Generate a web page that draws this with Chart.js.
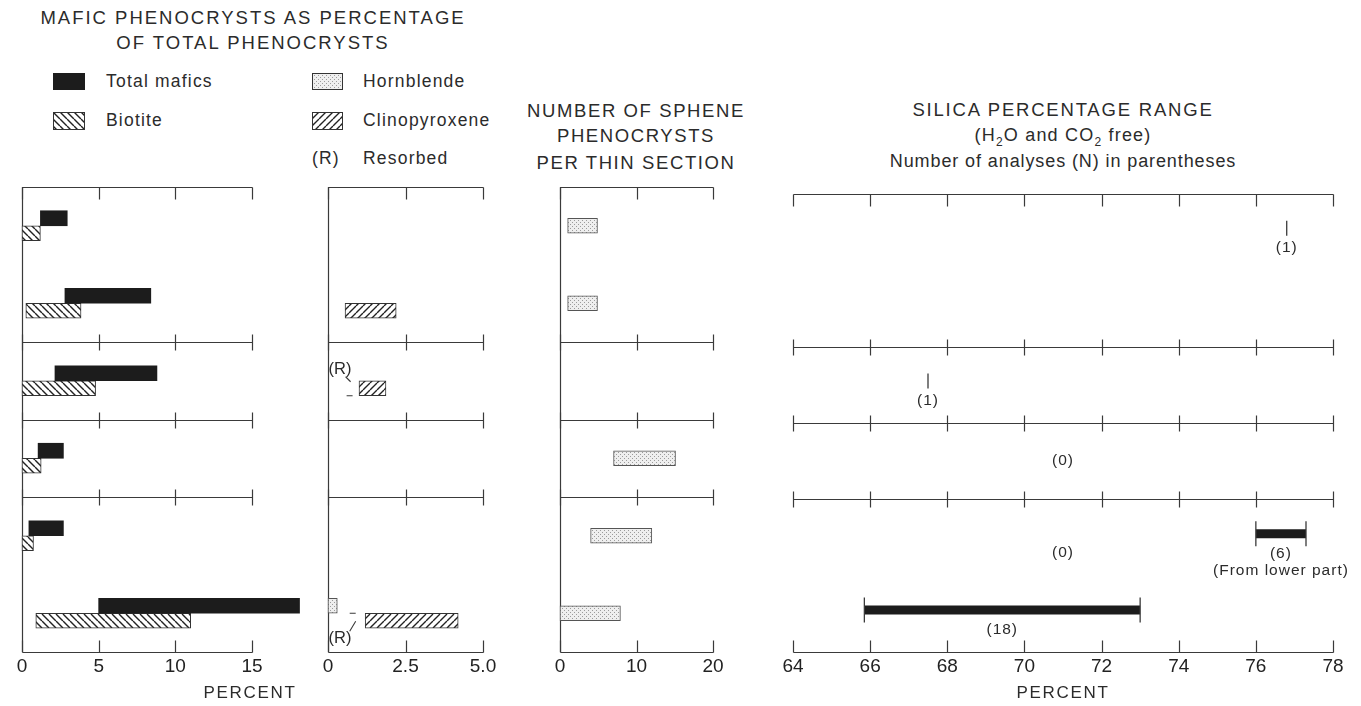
<!DOCTYPE html>
<html>
<head>
<meta charset="utf-8">
<script src="https://cdn.jsdelivr.net/npm/chart.js@4.4.1/dist/chart.umd.min.js"></script>
<style>
  body { margin: 0; background: #fff; }
  #wrap { position: relative; width: 1361px; height: 706px; overflow: hidden;
          font-family: 'Liberation Sans', Arial, sans-serif; color: #2b2b2b; }
  .t { position: absolute; white-space: nowrap; line-height: 20px; }
  .c { transform: translateX(-50%); }
  .chart { position: absolute; top: 180px; }
  .sw { position: absolute; }
  .lg { font-size: 17.5px; letter-spacing: 1.2px; }
</style>
</head>
<body>
<div id="wrap">
  <!-- titles -->
  <div class="t c" style="left:253px;top:8px;font-size:18.5px;letter-spacing:2px">MAFIC PHENOCRYSTS AS PERCENTAGE</div>
  <div class="t c" style="left:253px;top:33px;font-size:18.5px;letter-spacing:2px">OF TOTAL PHENOCRYSTS</div>

  <!-- legend -->
  <canvas class="sw" id="sw-total" width="32" height="17" style="left:53px;top:73px"></canvas>
  <div class="t lg" style="left:106px;top:71px">Total mafics</div>
  <canvas class="sw" id="sw-biotite" width="32" height="18" style="left:53px;top:112px"></canvas>
  <div class="t lg" style="left:106px;top:110px">Biotite</div>
  <canvas class="sw" id="sw-hornblende" width="31" height="17" style="left:312px;top:73px"></canvas>
  <div class="t lg" style="left:363px;top:71px">Hornblende</div>
  <canvas class="sw" id="sw-cpx" width="31" height="18" style="left:312px;top:112px"></canvas>
  <div class="t lg" style="left:363px;top:110px">Clinopyroxene</div>
  <div class="t lg" style="left:312px;top:148px">(R)</div>
  <div class="t lg" style="left:363px;top:148px">Resorbed</div>

  <div class="t c" style="left:636px;top:101px;font-size:18.5px;letter-spacing:1.6px">NUMBER OF SPHENE</div>
  <div class="t c" style="left:636px;top:126px;font-size:18.5px;letter-spacing:1.6px">PHENOCRYSTS</div>
  <div class="t c" style="left:636px;top:153px;font-size:18.5px;letter-spacing:1.6px">PER THIN SECTION</div>

  <div class="t c" style="left:1063px;top:100px;font-size:18.5px;letter-spacing:1.8px">SILICA PERCENTAGE RANGE</div>
  <div class="t c" style="left:1063px;top:125px;font-size:18px;letter-spacing:1.2px">(H<sub style="font-size:12px">2</sub>O and CO<sub style="font-size:12px">2</sub> free)</div>
  <div class="t c" style="left:1063px;top:151px;font-size:18px;letter-spacing:0.9px">Number of analyses (N) in parentheses</div>

  <canvas class="chart" id="mafic" width="320" height="526" style="left:0px"></canvas>
  <canvas class="chart" id="pyx" width="200" height="526" style="left:300px"></canvas>
  <canvas class="chart" id="sphene" width="210" height="526" style="left:530px"></canvas>
  <canvas class="chart" id="silica" width="600" height="526" style="left:760px"></canvas>

  <div class="t c" style="left:250px;top:683px;font-size:17px;letter-spacing:1.7px">PERCENT</div>
  <div class="t c" style="left:1063px;top:683px;font-size:17px;letter-spacing:1.7px">PERCENT</div>
</div>

<script>
// six sample groups, top to bottom
const ROWS = ['1', '2', '3', '4', '5', '6'];
const SEPARATORS = [2, 3, 4];   // rule drawn after these rows

// mafic phenocrysts, percent of total phenocrysts [low, high]
const totalMafics = [[1.2, 2.95], [2.8, 8.4], [2.15, 8.8], [1.05, 2.7], [0.45, 2.7], [5.0, 18.1]];
const biotite = [[0, 1.2], [0.25, 3.85], [0, 4.8], [0, 1.25], [0, 0.75], [0.9, 11.0]];
const hornblende = [null, null, null, null, null, [0, 0.3]];
const clinopyroxene = [null, [0.55, 2.2], [1.0, 1.87], null, null, [1.2, 4.2]];
const cpxResorbedFrom = [null, null, 0.6, null, null, 0.7];
const resorbedLabelSide = [null, null, 'above', null, null, 'below'];

// sphene phenocrysts per thin section [low, high]
const sphene = [[1.0, 4.9], [1.0, 4.9], null, [7.0, 15.1], [4.0, 12.0], [0, 7.9]];

// silica percentage range, N analyses
const silicaLow = [76.8, null, 67.5, null, 76.0, 65.85];
const silicaHigh = [76.8, null, 67.5, null, 77.3, 73.0];
const silicaN = [1, null, 1, null, 6, 18];
const silicaZero = [false, false, false, true, true, false];
const silicaNote = ['', '', '', '', '(From lower part)', ''];

// axis ticks
const maficTicks = [0, 5, 10, 15];
const maficLabels = ['0', '5', '10', '15'];
const pyxTicks = [0, 2.5, 5];
const pyxLabels = ['0', '2.5', '5.0'];
const spheneTicks = [0, 10, 20];
const spheneLabels = ['0', '10', '20'];
const silicaTicks = [64, 66, 68, 70, 72, 74, 76, 78];
const silicaLabels = ['64', '66', '68', '70', '72', '74', '76', '78'];

const INK = '#1c1c1c';
const LINE = '#3a3a3a';
const FONT = "'Liberation Sans', Arial, sans-serif";

Chart.defaults.font.family = FONT;
Chart.defaults.color = '#222';

function hatch(dir) {
  const s = 7;
  const c = document.createElement('canvas');
  c.width = c.height = s;
  const g = c.getContext('2d');
  g.fillStyle = '#fff';
  g.fillRect(0, 0, s, s);
  g.strokeStyle = '#222';
  g.lineWidth = 1.4;
  g.beginPath();
  for (const k of [-s, 0, s]) {
    if (dir === 'back') { g.moveTo(k, 0); g.lineTo(k + s, s); }
    else { g.moveTo(k, s); g.lineTo(k + s, 0); }
  }
  g.stroke();
  return g.createPattern(c, 'repeat');
}

function stipple() {
  const c = document.createElement('canvas');
  c.width = c.height = 4;
  const g = c.getContext('2d');
  g.fillStyle = '#efefef';
  g.fillRect(0, 0, 4, 4);
  g.fillStyle = '#9c9c9c';
  g.fillRect(0, 0, 1, 1);
  g.fillRect(2, 2, 1, 1);
  return g.createPattern(c, 'repeat');
}

const BIOTITE_FILL = hatch('back');
const CPX_FILL = hatch('fwd');
const HB_FILL = stipple();

// legend swatches
function swatch(id, fill, border) {
  const c = document.getElementById(id);
  const g = c.getContext('2d');
  g.fillStyle = fill;
  g.fillRect(0, 0, c.width, c.height);
  if (border) { g.strokeStyle = '#333'; g.lineWidth = 1; g.strokeRect(0.5, 0.5, c.width - 1, c.height - 1); }
}
swatch('sw-total', INK, false);
swatch('sw-biotite', BIOTITE_FILL, true);
swatch('sw-hornblende', HB_FILL, true);
swatch('sw-cpx', CPX_FILL, true);

// frame: top rule, row separators and bottom rule, each with ticks
const framePlugin = {
  id: 'frame',
  beforeDatasetsDraw(chart, args, opts) {
    const { ctx, chartArea: a, scales: { x } } = chart;
    const x0 = Math.round(x.getPixelForValue(x.min)) + 0.5;
    const x1 = Math.round(x.getPixelForValue(x.max)) + 0.5;
    const ticks = x.ticks.map(t => Math.round(x.getPixelForValue(t.value)) + 0.5);
    const rowH = (a.bottom - a.top) / ROWS.length;
    ctx.save();
    ctx.strokeStyle = LINE;
    ctx.lineWidth = 1.2;
    const hline = (y, up, down) => {
      y = Math.round(y) + 0.5;
      ctx.beginPath();
      ctx.moveTo(x0, y);
      ctx.lineTo(x1, y);
      ticks.forEach(px => { ctx.moveTo(px, y - up); ctx.lineTo(px, y + down); });
      ctx.stroke();
    };
    hline(a.top, 0, 12);
    SEPARATORS.forEach(r => hline(a.top + r * rowH, 8, 8));
    hline(a.bottom, 12, 0);
    if (opts.leftAxis) {
      ctx.beginPath();
      ctx.moveTo(x0, a.top);
      ctx.lineTo(x0, a.bottom);
      ctx.stroke();
    }
    ctx.restore();
  }
};

function xScale(ticks, labels) {
  return {
    type: 'linear',
    min: ticks[0],
    max: ticks[ticks.length - 1],
    afterBuildTicks: s => { s.ticks = ticks.map(v => ({ value: v })); },
    afterFit: s => { s.height = 54; },
    grid: { display: false, drawTicks: false },
    border: { display: false },
    ticks: { callback: (v, i) => labels[i], padding: 3, maxRotation: 0, autoSkip: false, font: { size: 19 } },
  };
}

function barChart(id, datasets, ticks, labels, pad, extraPlugins) {
  return new Chart(document.getElementById(id), {
    type: 'bar',
    data: { labels: ROWS, datasets },
    options: {
      responsive: false,
      animation: false,
      indexAxis: 'y',
      layout: { padding: { top: 7, bottom: 0, left: pad[0], right: pad[1] } },
      plugins: { legend: { display: false }, tooltip: { enabled: false }, frame: { leftAxis: true } },
      scales: {
        x: xScale(ticks, labels),
        y: { type: 'category', display: false, offset: true },
      },
    },
    plugins: [framePlugin].concat(extraPlugins || []),
  });
}

const barBase = { barThickness: 15, borderSkipped: false, clip: false, grouped: true };

barChart('mafic', [
  { ...barBase, label: 'Total mafics', data: totalMafics, backgroundColor: INK, borderWidth: 0 },
  { ...barBase, label: 'Biotite', data: biotite, backgroundColor: BIOTITE_FILL, borderColor: '#333', borderWidth: 1 },
], maficTicks, maficLabels, [22, 68]);

// resorbed clinopyroxene: dashed extension, hook and (R)
const resorbedPlugin = {
  id: 'resorbed',
  afterDatasetsDraw(chart) {
    const { ctx, scales: { x } } = chart;
    const bars = chart.getDatasetMeta(1).data;
    ctx.save();
    ctx.strokeStyle = LINE;
    ctx.fillStyle = '#2b2b2b';
    ctx.lineWidth = 1.1;
    ctx.font = '16.5px ' + FONT;
    ctx.textAlign = 'center';
    ctx.textBaseline = 'middle';
    cpxResorbedFrom.forEach((from, i) => {
      if (from == null) return;
      const b = bars[i];
      const top = b.y - b.height / 2, bottom = b.y + b.height / 2;
      const xs = x.getPixelForValue(from);
      const lx = x.getPixelForValue(0) + 12;
      ctx.beginPath();
      if (resorbedLabelSide[i] === 'above') {
        ctx.moveTo(xs, bottom); ctx.lineTo(xs + 6, bottom);
        ctx.moveTo(xs - 1, top - 4); ctx.lineTo(xs + 1, top - 2); ctx.lineTo(xs + 4, top + 1);
        ctx.stroke();
        ctx.fillText('(R)', lx, top - 11);
      } else {
        ctx.moveTo(xs, top); ctx.lineTo(xs + 6, top);
        ctx.moveTo(xs, bottom + 3); ctx.lineTo(xs + 6, bottom - 7);
        ctx.stroke();
        ctx.fillText('(R)', lx, bottom + 10);
      }
    });
    ctx.restore();
  }
};

barChart('pyx', [
  { ...barBase, label: 'Hornblende', data: hornblende, backgroundColor: HB_FILL, borderColor: '#555', borderWidth: 1 },
  { ...barBase, label: 'Clinopyroxene', data: clinopyroxene, backgroundColor: CPX_FILL, borderColor: '#333', borderWidth: 1 },
], pyxTicks, pyxLabels, [28, 17], [resorbedPlugin]);

barChart('sphene', [
  { ...barBase, label: 'Sphene', data: sphene, backgroundColor: HB_FILL, borderColor: '#555', borderWidth: 1 },
], spheneTicks, spheneLabels, [30, 27]);

// silica: ranges as thick lines with end caps, single analyses as short ticks
const MARK_Y = 0.45;
const silicaDatasets = [];
ROWS.forEach((r, i) => {
  if (silicaLow[i] == null) return;
  const y = i + MARK_Y;
  if (silicaLow[i] === silicaHigh[i]) {
    silicaDatasets.push({
      type: 'scatter', data: [{ x: silicaLow[i], y }], pointStyle: 'line', rotation: 90,
      pointRadius: 7.5, borderColor: LINE, pointBorderWidth: 1.3, clip: false,
    });
  } else {
    silicaDatasets.push({
      type: 'line', data: [{ x: silicaLow[i], y }, { x: silicaHigh[i], y }],
      borderColor: INK, borderWidth: 9, borderCapStyle: 'butt', pointStyle: 'line', rotation: 90,
      pointRadius: 12.5, pointBorderColor: LINE, pointBorderWidth: 1.3, clip: false,
    });
  }
});

const silicaLabelPlugin = {
  id: 'silicaLabels',
  afterDatasetsDraw(chart) {
    const { ctx, scales: { x, y } } = chart;
    ctx.save();
    ctx.fillStyle = '#2b2b2b';
    ctx.font = '15.5px ' + FONT;
    ctx.letterSpacing = '1px';
    ctx.textAlign = 'center';
    ctx.textBaseline = 'middle';
    ROWS.forEach((r, i) => {
      const ym = y.getPixelForValue(i + MARK_Y);
      if (silicaN[i] != null) {
        const xc = x.getPixelForValue((silicaLow[i] + silicaHigh[i]) / 2);
        ctx.fillText('(' + silicaN[i] + ')', xc, ym + 20);
        if (silicaNote[i]) ctx.fillText(silicaNote[i], xc, ym + 37);
      }
      if (silicaZero[i]) {
        const xc = x.getPixelForValue((x.min + x.max) / 2);
        const yz = silicaN[i] != null ? ym + 19 : y.getPixelForValue(i + 0.5);
        ctx.fillText('(0)', xc, yz);
      }
    });
    ctx.restore();
  }
};

new Chart(document.getElementById('silica'), {
  type: 'scatter',
  data: { datasets: silicaDatasets },
  options: {
    responsive: false,
    animation: false,
    layout: { padding: { top: 7, bottom: 0, left: 33, right: 27 } },
    plugins: { legend: { display: false }, tooltip: { enabled: false }, frame: { leftAxis: false } },
    scales: {
      x: xScale(silicaTicks, silicaLabels),
      y: { type: 'linear', display: false, min: 0, max: ROWS.length, reverse: true },
    },
  },
  plugins: [framePlugin, silicaLabelPlugin],
});
</script>
</body>
</html>
